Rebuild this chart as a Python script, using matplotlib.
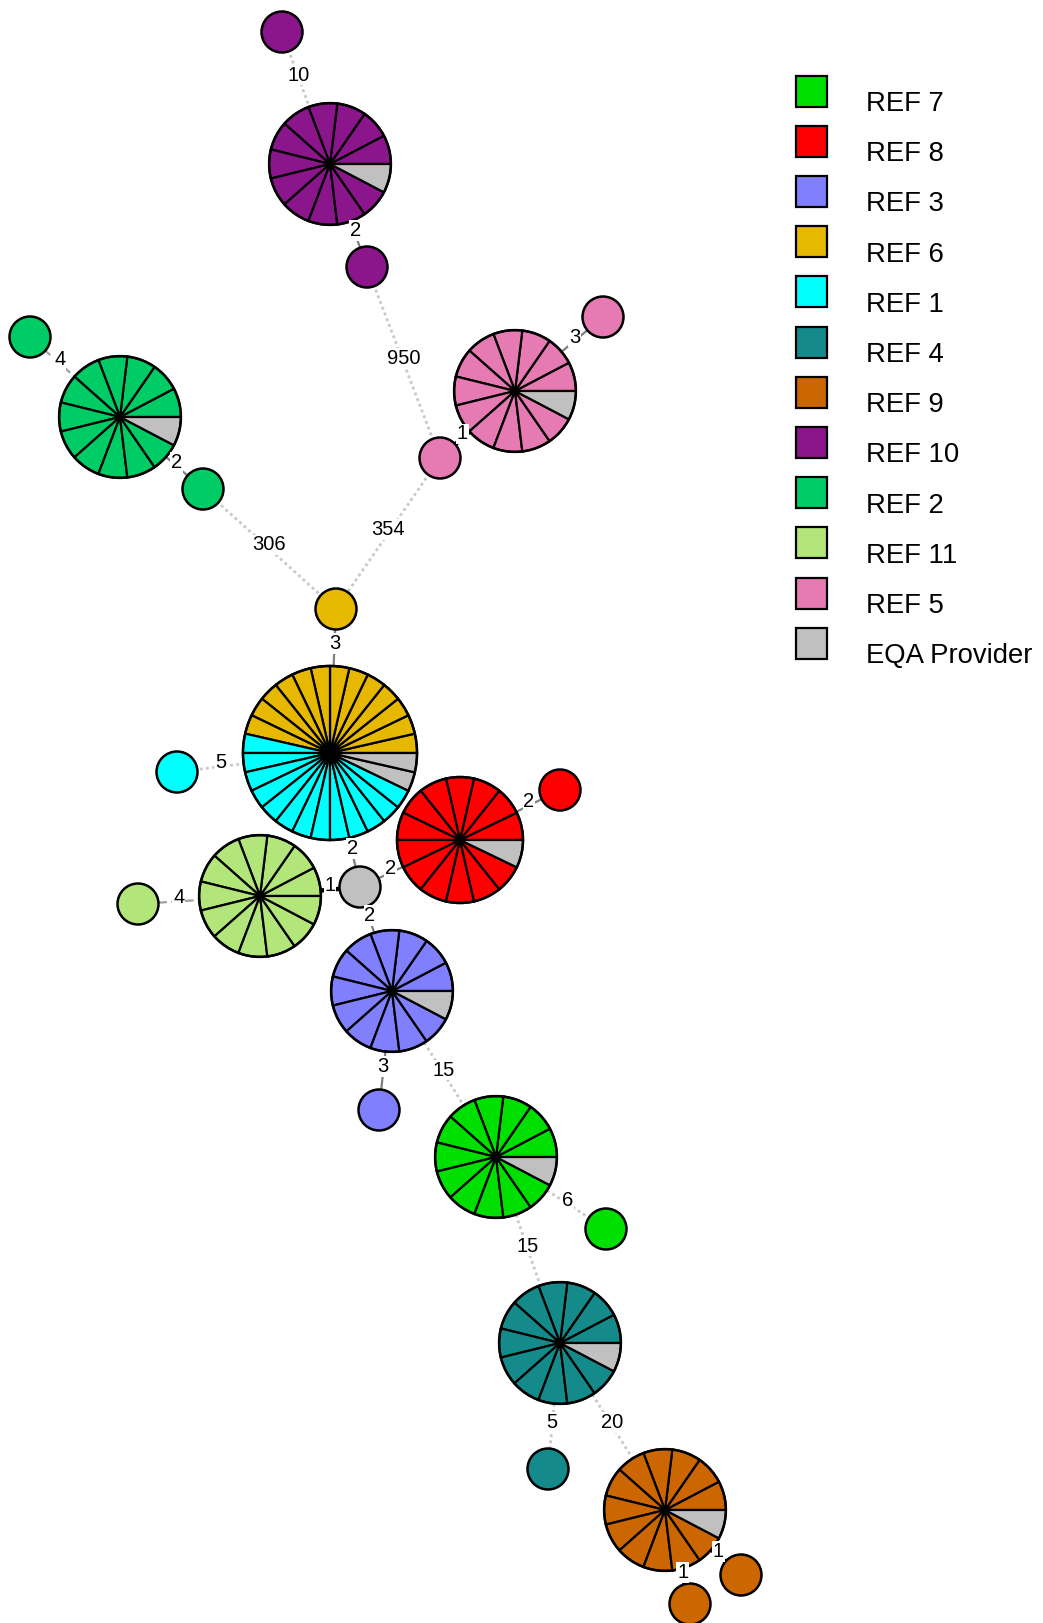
import numpy as np
import matplotlib
matplotlib.use("Agg")
import matplotlib.pyplot as plt
from matplotlib.patches import Circle, Rectangle

plt.rcParams['font.family'] = ['Liberation Sans', 'DejaVu Sans']

# ---- categories and colours -------------------------------------------
categories = ["REF 7", "REF 8", "REF 3", "REF 6", "REF 1", "REF 4", "REF 9",
              "REF 10", "REF 2", "REF 11", "REF 5", "EQA Provider"]
category_colors = ["#00e000", "#ff0000", "#8080ff", "#e6b800", "#00ffff",
                   "#148a8a", "#cc6600", "#8b158b", "#00cc66", "#b3e67a",
                   "#e67ab3", "#c0c0c0"]

# ---- profile nodes: isolates per category ------------------------------
node_members = {
    "r10_a":   [("REF 10", 1)],
    "r10_main": [("REF 10", 12), ("EQA Provider", 1)],
    "r10_b":   [("REF 10", 1)],
    "r5_main": [("REF 5", 12), ("EQA Provider", 1)],
    "r5_a":    [("REF 5", 1)],
    "r5_b":    [("REF 5", 1)],
    "r2_main": [("REF 2", 12), ("EQA Provider", 1)],
    "r2_a":    [("REF 2", 1)],
    "r2_b":    [("REF 2", 1)],
    "r6_a":    [("REF 6", 1)],
    "r6r1_main": [("REF 6", 13), ("REF 1", 13), ("EQA Provider", 2)],
    "r1_a":    [("REF 1", 1)],
    "r8_main": [("REF 8", 13), ("EQA Provider", 1)],
    "r8_a":    [("REF 8", 1)],
    "eqa_a":   [("EQA Provider", 1)],
    "r11_main": [("REF 11", 13)],
    "r11_a":   [("REF 11", 1)],
    "r3_main": [("REF 3", 12), ("EQA Provider", 1)],
    "r3_a":    [("REF 3", 1)],
    "r7_main": [("REF 7", 12), ("EQA Provider", 1)],
    "r7_a":    [("REF 7", 1)],
    "r4_main": [("REF 4", 12), ("EQA Provider", 1)],
    "r4_a":    [("REF 4", 1)],
    "r9_main": [("REF 9", 12), ("EQA Provider", 1)],
    "r9_a":    [("REF 9", 1)],
    "r9_b":    [("REF 9", 1)],
}

# ---- minimum spanning tree edges (allelic distance) -------------------
edge_from = ["r10_a", "r10_main", "r10_b", "r5_b", "r5_main", "r2_main", "r2_main",
             "r2_b", "r5_b", "r6_a", "r6r1_main", "eqa_a", "eqa_a", "r8_main",
             "eqa_a", "r11_main", "eqa_a", "r3_main", "r3_main", "r7_main",
             "r7_main", "r4_main", "r4_main", "r9_main", "r9_main"]
edge_to = ["r10_main", "r10_b", "r5_b", "r5_main", "r5_a", "r2_a", "r2_b",
           "r6_a", "r6_a", "r6r1_main", "r1_a", "r6r1_main", "r8_main", "r8_a",
           "r11_main", "r11_a", "r3_main", "r3_a", "r7_main", "r7_a",
           "r4_main", "r4_a", "r9_main", "r9_a", "r9_b"]
edge_dist = [10, 2, 950, 1, 3, 4, 2, 306, 354, 3, 5, 2, 2, 2, 1, 4, 2, 3, 15, 6,
             15, 5, 20, 1, 1]

# ---- layout (pixel positions, y measured from the top) ----------------
layout = {
    "r10_a": (282, 32), "r10_main": (330, 164), "r10_b": (367, 267),
    "r5_main": (515, 391), "r5_a": (603, 317), "r5_b": (440, 458),
    "r2_main": (120, 417), "r2_a": (30, 337), "r2_b": (203, 489),
    "r6_a": (336, 609), "r6r1_main": (330, 753), "r1_a": (177, 772),
    "r8_main": (460, 840), "r8_a": (560, 790), "eqa_a": (360, 887),
    "r11_main": (260, 896), "r11_a": (138, 904), "r3_main": (392, 991),
    "r3_a": (379, 1110), "r7_main": (496, 1157), "r7_a": (606, 1229),
    "r4_main": (560, 1343), "r4_a": (548, 1469), "r9_main": (665, 1510),
    "r9_a": (741, 1575), "r9_b": (690, 1604),
}

W, H = 1043, 1623
color_of = dict(zip(categories, category_colors))


def node_xy(name):
    x, y = layout[name]
    return np.array([x, H - y], dtype=float)


def node_radius(name):
    n = sum(c for _, c in node_members[name])
    return 15.5 * np.sqrt(n) + 5.0


def edge_style(d):
    if d == 1:
        return dict(color="black", lw=3.2, ls="-")
    if d <= 3:
        return dict(color="#7f7f7f", lw=1.6, ls="-")
    if d == 4:
        return dict(color="#a0a0a0", lw=1.6, ls=(0, (4, 2)))
    return dict(color="#c8c8c8", lw=2.0, ls=(0, (1, 1.2)))


fig = plt.figure(figsize=(W / 100, H / 100), dpi=100)
ax = fig.add_axes([0, 0, 1, 1])

# edges and their distance labels
for a, b, d in zip(edge_from, edge_to, edge_dist):
    pa, pb = node_xy(a), node_xy(b)
    st = edge_style(d)
    ax.plot([pa[0], pb[0]], [pa[1], pb[1]], color=st["color"], lw=st["lw"],
            ls=st["ls"], zorder=1, solid_capstyle="butt")
    u = (pb - pa) / np.linalg.norm(pb - pa)
    s = pa + u * node_radius(a)
    e = pb - u * node_radius(b)
    m = (s + e) / 2
    ax.text(m[0], m[1] + 4, str(d), fontsize=14.5, ha="center", va="center",
            zorder=4, bbox=dict(fc="white", ec="none", pad=0.6))

# nodes
for name, members in node_members.items():
    c = node_xy(name)
    r = node_radius(name)
    counts = [n for _, n in members]
    cols = [color_of[k] for k, _ in members]
    if sum(counts) == 1:
        ax.add_patch(Circle(c, r, fc=cols[0], ec="black", lw=1.8, zorder=3))
    else:
        wedges, _ = ax.pie(np.repeat(1, sum(counts)),
                           colors=np.repeat(cols, counts),
                           radius=r, center=tuple(c), startangle=0,
                           counterclock=True, frame=True,
                           wedgeprops=dict(edgecolor="black", linewidth=1.6))
        for w in wedges:
            w.set_zorder(3)
        ax.add_patch(Circle(c, r, fc="none", ec="black", lw=1.8, zorder=3.5))

# legend
for i, (lab, col) in enumerate(zip(categories, category_colors)):
    yc = 91 + i * 50.2
    ax.add_patch(Rectangle((796, H - yc - 15.5), 31, 31, fc=col, ec="black",
                           lw=1.6, zorder=3))
    ax.text(866, H - yc - 13, lab, fontsize=19.8, ha="left", va="center",
            zorder=3)

ax.set_xlim(0, W)
ax.set_ylim(0, H)
ax.set_aspect("equal")
ax.axis("off")
fig.savefig("out.png", dpi=100, facecolor="white")
